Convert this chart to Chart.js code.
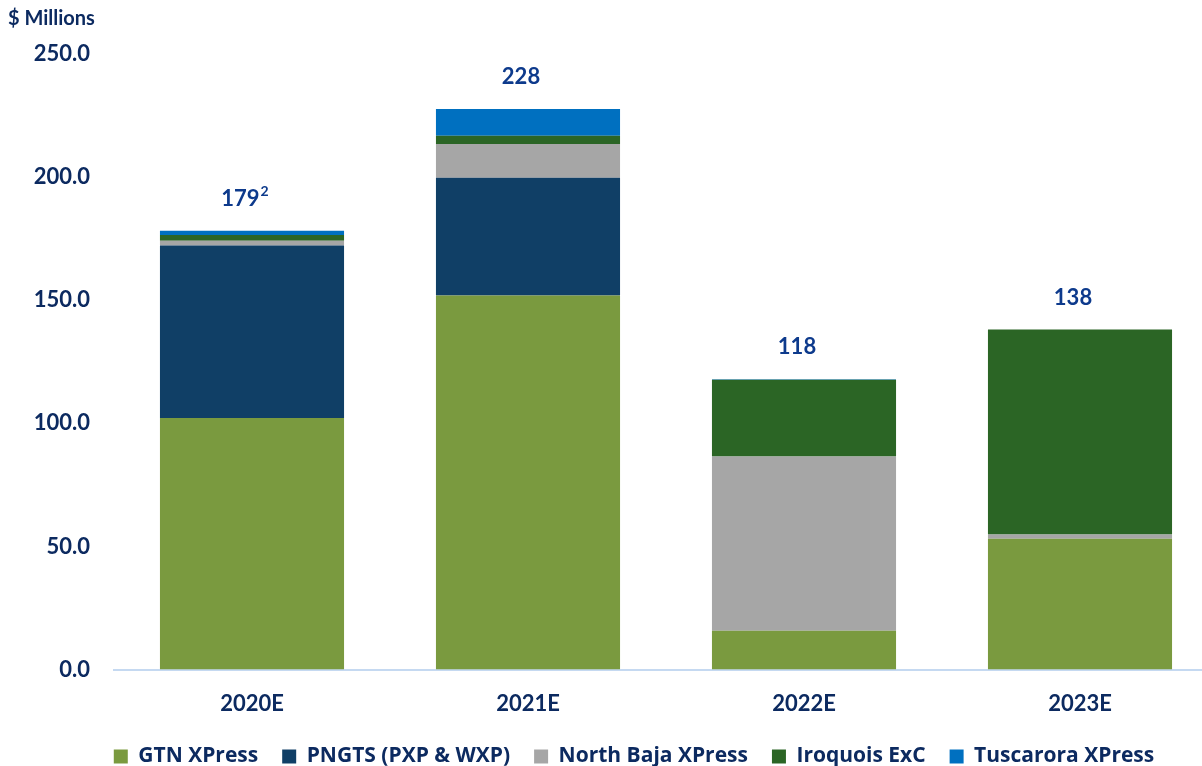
<!DOCTYPE html>
<html>
<head>
<meta charset="utf-8">
<script src="https://cdn.jsdelivr.net/npm/chart.js@4/dist/chart.umd.min.js"></script>
<style>
  html, body { margin: 0; padding: 0; background: #ffffff; overflow: hidden; }
  #wrap { position: relative; width: 1220px; height: 777px; }
  #unit { position: absolute; left: 8px; top: 5px; font: bold 20px Lato, sans-serif; color: #0c2a60; }
</style>
</head>
<body>
<div id="wrap">
  <canvas id="c"></canvas>
  <div id="unit">$ Millions</div>
</div>
<script>
const categories = ['2020E', '2021E', '2022E', '2023E'];
const gtnXpress = [102.2, 151.9, 15.8, 53.1];
const pngts = [70.0, 47.8, 0, 0];
const northBaja = [2.0, 13.7, 70.7, 1.8];
const iroquois = [2.3, 3.4, 31.2, 83.2];
const tuscarora = [1.75, 10.9, 0.2, 0];
const totalLabels = ['179', '228', '118', '138'];
const totalSuperscripts = ['2', '', '', ''];
const yTicks = [0, 50, 100, 150, 200, 250];

const tickColor = '#0c2a60';
const labelColor = '#0d3a8c';

Chart.defaults.font.family = 'Lato, sans-serif';

const totalsPlugin = {
  id: 'totals',
  afterLayout(chart) {
    const lg = chart.legend;
    if (lg) { lg.left += 25; lg.right += 25; }
  },
  afterDatasetsDraw(chart) {
    const ctx = chart.ctx;
    const xs = chart.scales.x, ys = chart.scales.y;
    ctx.save();
    ctx.fillStyle = labelColor;
    ctx.textBaseline = 'middle';
    categories.forEach((c, i) => {
      let total = 0;
      chart.data.datasets.forEach(d => { total += d.data[i] || 0; });
      const x = xs.getPixelForValue(i) - 7;
      const y = ys.getPixelForValue(total) - 32;
      ctx.font = 'bold 22px Lato, sans-serif';
      const mw = ctx.measureText(totalLabels[i]).width;
      ctx.font = 'bold 14px Lato, sans-serif';
      const sw = totalSuperscripts[i] ? ctx.measureText(totalSuperscripts[i]).width + 1 : 0;
      const left = x - (mw + sw) / 2;
      ctx.textAlign = 'left';
      ctx.font = 'bold 22px Lato, sans-serif';
      ctx.fillText(totalLabels[i], left, y);
      if (totalSuperscripts[i]) {
        ctx.font = 'bold 14px Lato, sans-serif';
        ctx.fillText(totalSuperscripts[i], left + mw + 1, y - 7);
      }
    });
    ctx.restore();
  }
};

new Chart(document.getElementById('c'), {
  type: 'bar',
  data: {
    labels: categories,
    datasets: [
      { label: 'GTN XPress', data: gtnXpress, backgroundColor: '#7a9a3f' },
      { label: 'PNGTS (PXP & WXP)', data: pngts, backgroundColor: '#103f66' },
      { label: 'North Baja XPress', data: northBaja, backgroundColor: '#a6a6a6' },
      { label: 'Iroquois ExC', data: iroquois, backgroundColor: '#2b6525' },
      { label: 'Tuscarora XPress', data: tuscarora, backgroundColor: '#0070c0' }
    ]
  },
  options: {
    responsive: true,
    maintainAspectRatio: false,
    animation: false,
    layout: { padding: { top: 54, left: 0, right: 2, bottom: 0 } },
    datasets: { bar: { barPercentage: 0.667, categoryPercentage: 1.0, borderWidth: 0 } },
    plugins: {
      tooltip: { enabled: false },
      legend: {
        position: 'bottom',
        labels: {
          boxWidth: 14, boxHeight: 14, padding: 24,
          color: tickColor,
          font: { family: '"Open Sans", sans-serif', size: 21, weight: 'bold' }
        }
      }
    },
    scales: {
      x: {
        stacked: true,
        grid: { display: false, drawTicks: false },
        border: { display: true, color: '#c5d9f1', width: 2 },
        ticks: { color: tickColor, font: { size: 22, weight: 'bold' }, padding: 21 },
        afterFit(scale) { scale.height -= 16; }
      },
      y: {
        stacked: true,
        min: 0, max: 250,
        afterBuildTicks(scale) { scale.ticks = yTicks.map(v => ({ value: v })); },
        grid: { display: false, drawTicks: false },
        border: { display: false },
        ticks: {
          color: tickColor, font: { size: 22, weight: 'bold' }, padding: 24,
          callback: v => Number(v).toFixed(1)
        },
        afterFit(scale) { scale.width = 114; }
      }
    }
  },
  plugins: [totalsPlugin]
});
</script>
</body>
</html>
